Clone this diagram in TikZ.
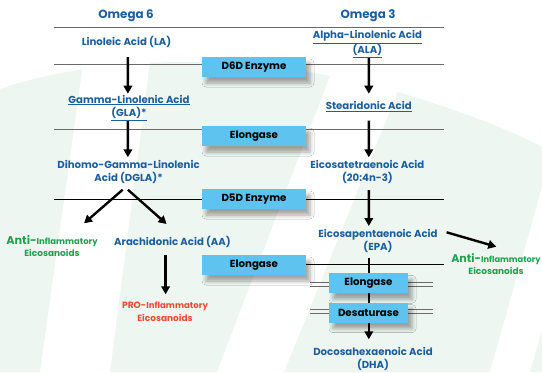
\documentclass[tikz,border=0pt]{standalone}
\usepackage{fontspec}
\setmainfont{Poppins}
\usetikzlibrary{arrows.meta,shadows.blur,calc}
\definecolor{txtblue}{HTML}{1D5E9C}
\definecolor{boxblue}{HTML}{5EC3EE}
\definecolor{mint}{HTML}{EDF6F0}
\definecolor{antigreen}{HTML}{22A050}
\definecolor{prored}{HTML}{F04A36}
\definecolor{linegray}{HTML}{6A6A6A}
\pgfdeclarelayer{bg}
\pgfsetlayers{bg,main}
\tikzset{
 acid/.style={text=txtblue, font=\fontsize{10.2}{13.3}\selectfont\bfseries, align=center, inner sep=0pt},
 title/.style={text=txtblue, font=\fontsize{11.9}{14}\selectfont\bfseries, inner sep=0pt},
 anti/.style={text=antigreen, font=\fontsize{9}{12.5}\selectfont\bfseries, align=center, inner sep=0pt},
 pro/.style={text=prored, font=\fontsize{9}{12.5}\selectfont\bfseries, align=center, inner sep=0pt},
 enzyme/.style={fill=boxblue, text=black, font=\fontsize{10.3}{12}\selectfont\bfseries,
   minimum width=104bp, minimum height=20bp, inner sep=0pt,
   blur shadow={shadow xshift=4bp, shadow yshift=-6bp, shadow opacity=35, shadow blur radius=4bp}},
 smallenzyme/.style={enzyme, minimum width=79bp},
 arr/.style={-{Triangle[width=8.5bp,length=8bp]}, line width=2.4bp, black},
 rule/.style={line width=1.2bp, linegray},
 thinrule/.style={line width=0.9bp, black},
 dbl/.style={line width=0.8bp, linegray},
}
\begin{document}
\begin{tikzpicture}[x=1bp,y=-1bp]
\useasboundingbox (0,0) rectangle (542,372);
% titles
\node[title] (om6) at (126,15.7) {Omega 6};
\node[title] (om3) at (368,15.7) {Omega 3};
% omega 6 column
\node[acid] (la) at (126.5,42.3) {Linoleic Acid (LA)};
\node[acid] (gla) at (129,107.7) {\underline{Gamma-Linolenic Acid}\\\underline{(GLA)*}};
\node[acid] (dgla) at (128.6,171.7) {Dihomo-Gamma-Linolenic\\Acid (DGLA)*};
\node[anti] (anti1) at (52,246) {{\fontsize{11.3}{12.5}\selectfont Anti-}{\fontsize{8.5}{12.5}\selectfont Inflammatory}\\Eicosanoids};
\node[acid] (aa) at (172.5,241.7) {Arachidonic Acid (AA)};
\node[pro] (pro) at (165,311.8) {{\fontsize{9.2}{12.5}\selectfont PRO-}{\fontsize{8.6}{12.5}\selectfont Inflammatory}\\Eicosanoids};
% omega 3 column
\node[acid] (ala) at (367.4,44.3) {\underline{Alpha-Linolenic Acid}\\\underline{(ALA)}};
\node[acid] (sda) at (368.8,106.3) {\underline{Stearidonic Acid}};
\node[acid] (eta) at (367.4,171.7) {Eicosatetraenoic Acid\\(20:4n-3)};
\node[acid] (epa) at (378,240.7) {Eicosapentaenoic Acid\\(EPA)};
\node[anti] (anti2) at (496,264) {{\fontsize{11.1}{12.5}\selectfont Anti-}{\fontsize{8.3}{12.5}\selectfont Inflammatory}\\Eicosanoids};
\node[acid] (dha) at (373,358.7) {Docosahexaenoic Acid\\(DHA)};
% enzyme boxes
\node[enzyme] (d6d) at (254,67) {D6D Enzyme};
\node[enzyme] (elo1) at (254,136) {Elongase};
\node[enzyme] (d5d) at (254,199) {D5D Enzyme};
\node[enzyme] (elo2) at (254,265) {Elongase};
\node[smallenzyme] (elo3) at (368.5,283.3) {Elongase};
\node[smallenzyme] (desat) at (368.5,312.7) {Desaturase};
% line end points
\coordinate (l1a) at (54,27.3);  \coordinate (l1b) at (443.5,27.3);
\coordinate (l2a) at (54,64.7);  \coordinate (l2b) at (443.5,64.7);
\coordinate (l3a) at (54,129.7); \coordinate (l3b) at (443.5,129.7);
\coordinate (l4a) at (54,199.3); \coordinate (l4b) at (443.5,199.3);
\coordinate (l5b) at (443.5,264.3);
\coordinate (da1) at (310,282.3); \coordinate (db1) at (433,282.3);
\coordinate (da2) at (310,286.3); \coordinate (db2) at (433,286.3);
\coordinate (da3) at (310,309.7); \coordinate (db3) at (433,309.7);
\coordinate (da4) at (310,313.7); \coordinate (db4) at (433,313.7);
\begin{pgfonlayer}{bg}
 % background
 \fill[white] (0,0) rectangle (542,372);
 \fill[mint] (0,89) .. controls (100,55) and (250,50) .. (398,92)
   .. controls (450,108) and (500,125) .. (542,147) -- (542,372) -- (0,372) -- cycle;
 \fill[white] (40,372) -- (110,372) -- (158,0) -- (92,0) -- cycle;
 \fill[white] (217,372) -- (284,372) -- (435,0) -- (359,0) -- cycle;
 \fill[white] (490,372) -- (530,372) -- (542,330) -- (542,187) -- cycle;
 % rules
 \draw[rule] (l1a) -- (l1b);
 \draw[rule] (l2a) -- (l2b);
 \draw[rule] (l3a) -- (l3b);
 \draw[thinrule] (l4a) -- (l4b);
 \draw[thinrule] (elo2.east |- l5b) -- (l5b);
 \draw[dbl] (da1) -- (db1);
 \draw[dbl] (da2) -- (db2);
 \draw[dbl] (da3) -- (db3);
 \draw[dbl] (da4) -- (db4);
 % arrows
 \draw[arr] ($(la)+(1.4,14.7)$) -- ($(gla)+(-1.1,-14)$);
 \draw[arr] ($(gla)+(-1.1,13)$) -- ($(dgla)+(-0.7,-14.4)$);
 \draw[arr] ($(ala)+(1.4,12.7)$) -- ($(sda)+(0,-12.6)$);
 \draw[arr] ($(sda)+(0,14.4)$) -- ($(eta)+(1.4,-14.4)$);
 \draw[arr] ($(eta)+(1.4,18.3)$) -- ($(epa)+(-9.2,-14.7)$);
 \draw[arr] ($(epa)+(-9.2,17.6)$) -- ($(dha)+(-4.2,-19.4)$);
 \draw[arr] ($(dgla)+(-5.9,18)$) -- ($(anti1)+(32,-22.7)$);
 \draw[arr] ($(dgla)+(-0.7,18)$) -- ($(aa)+(-5.9,-17.7)$);
 \draw[arr] ($(aa)+(-6.9,13.6)$) -- ($(pro)+(0.6,-17.5)$);
 \draw[arr] ($(epa)+(68.6,-8.4)$) -- ($(anti2)+(0.3,-17.3)$);
\end{pgfonlayer}
\end{tikzpicture}
\end{document}
